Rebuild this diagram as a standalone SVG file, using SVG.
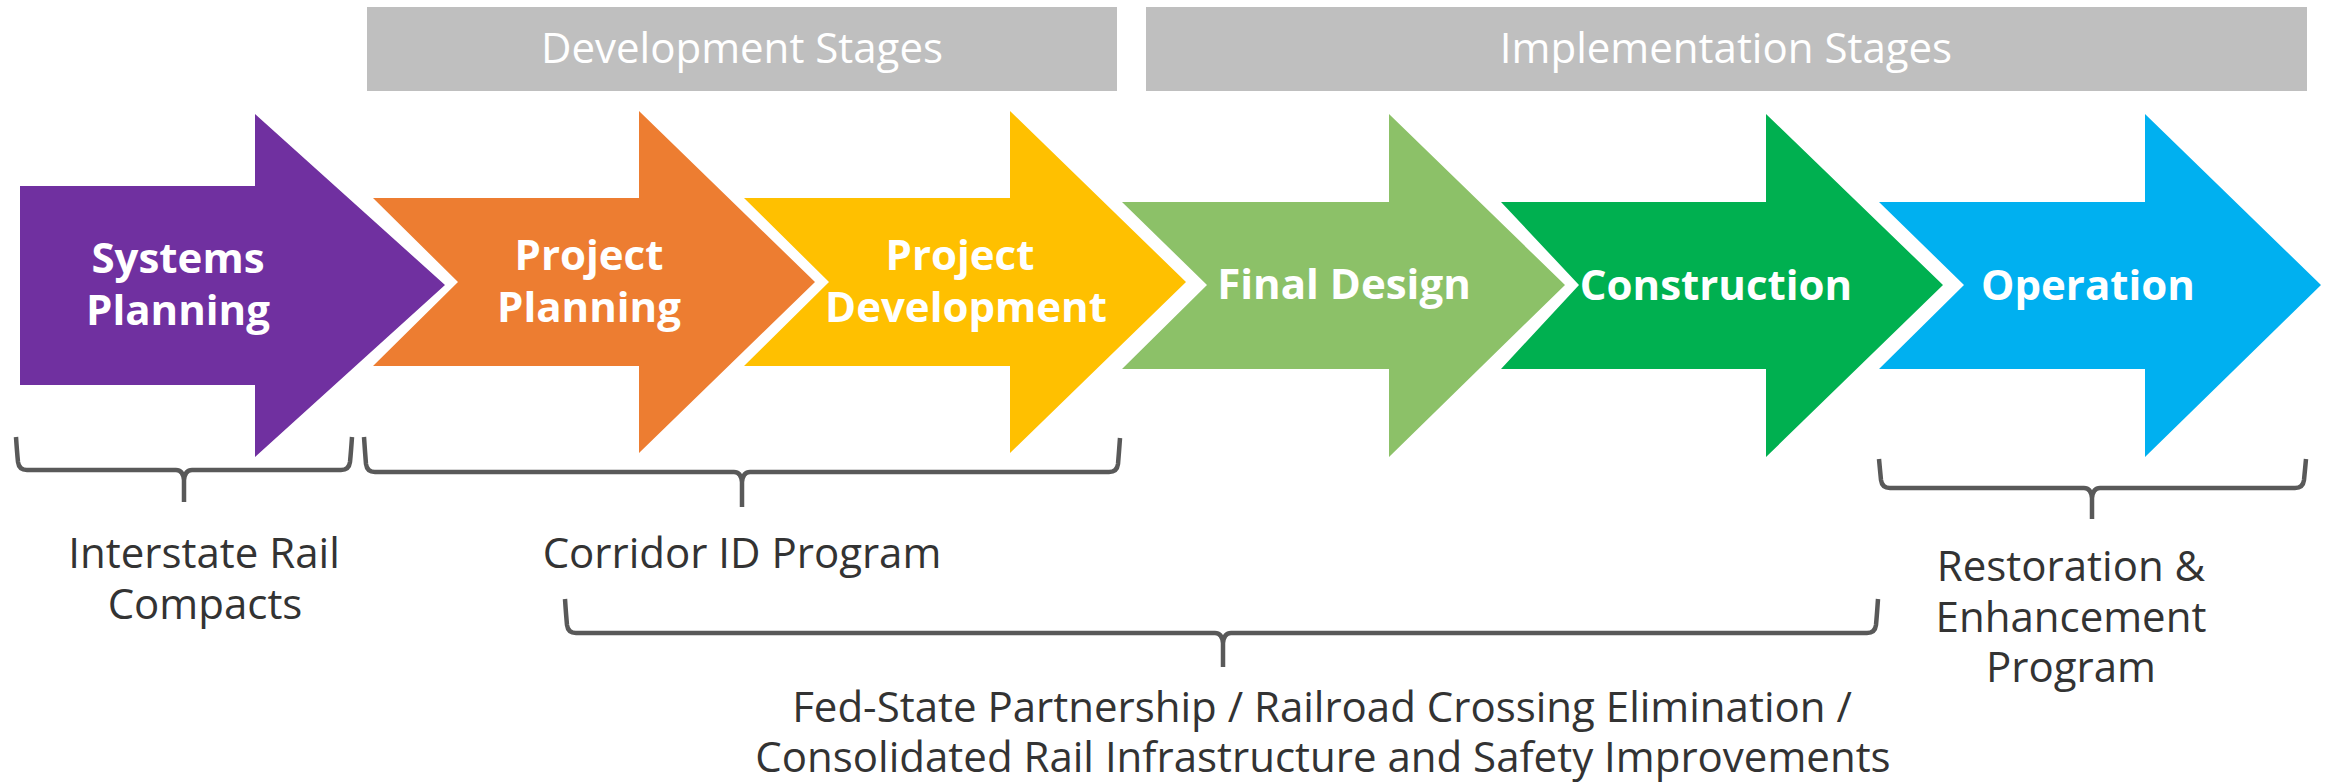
<svg xmlns="http://www.w3.org/2000/svg" width="2334" height="782" viewBox="0 0 2334 782">
<style>
.hdr{fill:#BFBFBF}
.htxt{font-family:"Open Sans",sans-serif;font-size:42px;fill:#FFFFFF;text-anchor:middle;font-weight:400}
.lbl{font-family:"Open Sans",sans-serif;font-size:42px;font-weight:700;fill:#FFFFFF;text-anchor:middle}
.body{font-family:"Open Sans",sans-serif;font-size:42px;fill:#333333;text-anchor:middle}
.br{fill:none;stroke:#595959;stroke-width:4.5;stroke-linejoin:round;stroke-linecap:butt}
</style>
<rect width="2334" height="782" fill="#FFFFFF"/>
<g id="header-development">
<rect class="hdr" x="367" y="7" width="750" height="84"/>
<text class="htxt" x="742" y="63">Development Stages</text>
</g>
<g id="header-implementation">
<rect class="hdr" x="1146" y="7" width="1161" height="84"/>
<text class="htxt" x="1726" y="63">Implementation Stages</text>
</g>
<g id="systems-planning">
<polygon fill="#7030A0" points="20,186 255,186 255,114 445,285 255,457 255,385 20,385"/>
<text class="lbl" x="178" y="273">Systems</text>
<text class="lbl" x="178" y="325">Planning</text>
</g>
<g id="project-planning">
<polygon fill="#ED7D31" points="373,198 639,198 639,111 815,282 639,453 639,366 373,366 458,282"/>
<text class="lbl" x="589" y="270">Project</text>
<text class="lbl" x="589" y="322">Planning</text>
</g>
<g id="project-development">
<polygon fill="#FFC000" points="744,198 1010,198 1010,111 1186,282 1010,453 1010,366 744,366 829,282"/>
<text class="lbl" x="960" y="270">Project</text>
<text class="lbl" x="966" y="322">Development</text>
</g>
<g id="final-design">
<polygon fill="#8CC168" points="1122,202 1389,202 1389,114 1565,285 1389,457 1389,369 1122,369 1207,285"/>
<text class="lbl" x="1344" y="299">Final Design</text>
</g>
<g id="construction">
<polygon fill="#00B050" points="1501,202 1766,202 1766,114 1943,285 1766,457 1766,369 1501,369 1579,285"/>
<text class="lbl" x="1716" y="300">Construction</text>
</g>
<g id="operation">
<polygon fill="#00B0F0" points="1879,202 2145,202 2145,114 2321,285 2145,457 2145,369 1879,369 1964,285"/>
<text class="lbl" x="2088" y="300">Operation</text>
</g>
<g id="connectors">
<path class="br" d="M16,437 Q17,452 18,462 Q19,470 27,470 L176,470 Q183,470 184,480 L184,502 M184,480 Q185,470 192,470 L341,470 Q349,470 350,462 Q351,452 352,437"/>
<path class="br" d="M364,437 Q365,452 366,464 Q367,472 375,472 L734,472 Q741,472 742,482 L742,507 M742,482 Q743,472 750,472 L1109,472 Q1117,472 1118,464 Q1119,452 1120,438"/>
<path class="br" d="M565,599 Q566,614 567,625 Q568,633 576,633 L1215,633 Q1222,633 1223,643 L1223,667 M1223,643 Q1224,633 1231,633 L1867,633 Q1875,633 1876,625 Q1877,614 1878,599"/>
<path class="br" d="M1879,459 Q1880,470 1881,480 Q1882,488 1890,488 L2084,488 Q2091,488 2092,498 L2092,519 M2092,498 Q2093,488 2100,488 L2295,488 Q2303,488 2304,480 Q2305,470 2306,459"/>
</g>
<g id="label-interstate">
<text class="body" x="204" y="568">Interstate Rail</text>
<text class="body" x="205" y="619">Compacts</text>
</g>
<g id="label-corridor">
<text class="body" x="742" y="568">Corridor ID Program</text>
</g>
<g id="label-fedstate">
<text class="body" x="1322" y="722">Fed-State Partnership / Railroad Crossing Elimination /</text>
<text class="body" x="1323" y="772">Consolidated Rail Infrastructure and Safety Improvements</text>
</g>
<g id="label-restoration">
<text class="body" x="2071" y="581">Restoration &amp;</text>
<text class="body" x="2071" y="632">Enhancement</text>
<text class="body" x="2071" y="682">Program</text>
</g>
</svg>
